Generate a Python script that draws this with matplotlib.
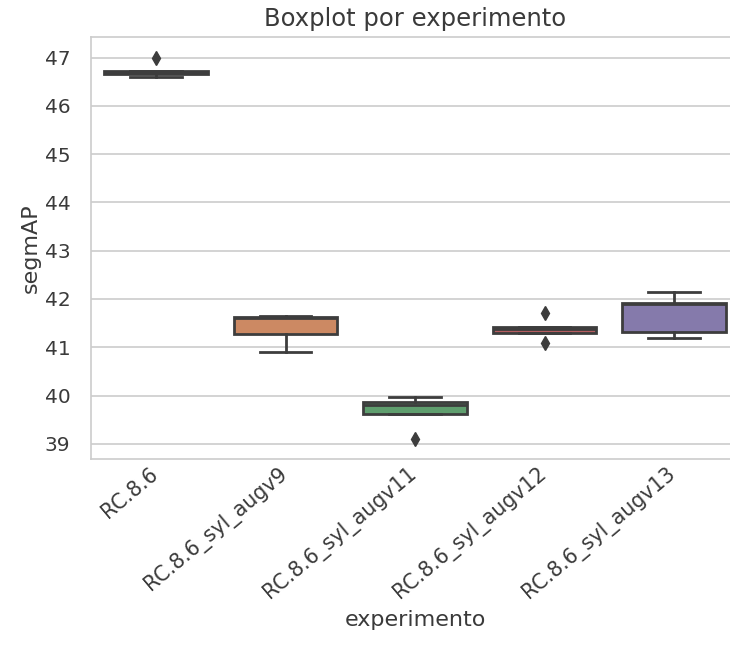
import colorsys
import matplotlib
matplotlib.use('Agg')
import matplotlib.pyplot as plt
import matplotlib.transforms as mtransforms
import numpy as np

experimentos = ['RC.8.6', 'RC.8.6_syl_augv9', 'RC.8.6_syl_augv11',
                'RC.8.6_syl_augv12', 'RC.8.6_syl_augv13']
rc86 = [46.60, 46.66, 46.68, 46.72, 47.00]
augv9 = [40.90, 41.27, 41.60, 41.63, 41.65]
augv11 = [39.09, 39.62, 39.80, 39.87, 39.97]
augv12 = [41.08, 41.30, 41.38, 41.42, 41.70]
augv13 = [41.19, 41.32, 41.90, 41.92, 42.14]
datos = [rc86, augv9, augv11, augv12, augv13]

deep = ['#4C72B0', '#DD8452', '#55A868', '#C44E52', '#8172B3']


def desat(c, s=0.75):
    r, g, b = matplotlib.colors.to_rgb(c)
    h, l, sat = colorsys.rgb_to_hls(r, g, b)
    return colorsys.hls_to_rgb(h, l, sat * s)


colores = [desat(c) for c in deep]
gris = '#3d3d3d'

plt.rcParams['font.family'] = 'DejaVu Sans'
fig = plt.figure(figsize=(7.30, 6.58), dpi=100)
ax = fig.add_axes([0.125, 0.302, 0.887, 0.642])
ax.set_facecolor('white')

bp = ax.boxplot(datos, positions=np.arange(len(datos)), widths=0.8,
                patch_artist=True, whis=1.5,
                medianprops=dict(color=gris, linewidth=2),
                whiskerprops=dict(color=gris, linewidth=2),
                capprops=dict(color=gris, linewidth=2),
                boxprops=dict(edgecolor=gris, linewidth=2),
                flierprops=dict(marker='d', markerfacecolor=gris,
                                markeredgecolor=gris, markersize=7))
for caja, c in zip(bp['boxes'], colores):
    caja.set_facecolor(c)

ax.set_xlim(-0.5, 4.5)
ax.set_ylim(38.68, 47.43)
ax.set_yticks(range(39, 48))
ax.yaxis.grid(True, color='#cccccc', linewidth=1.2)
ax.set_axisbelow(True)
for sp in ax.spines.values():
    sp.set_color('#cccccc')
    sp.set_linewidth(1.2)
ax.tick_params(length=0, colors='#3a3a3a')
ax.tick_params(axis='y', pad=15, labelsize=14.5)
ax.tick_params(axis='x', pad=3, labelsize=14.8)
ax.set_xticks(range(len(experimentos)))
ax.set_xticklabels(experimentos, rotation=40, ha='right')
desplaza = mtransforms.ScaledTranslation(0.06, 0, fig.dpi_scale_trans)
for lab in ax.get_xticklabels():
    lab.set_transform(lab.get_transform() + desplaza)
ax.set_xlabel('experimento', fontsize=16, color='#3a3a3a', labelpad=5)
ax.set_ylabel('segmAP', fontsize=16, color='#3a3a3a', labelpad=3)
ax.set_title('Boxplot por experimento', fontsize=17.5, color='#3a3a3a', pad=8)

fig.savefig('out.png', dpi=100)
